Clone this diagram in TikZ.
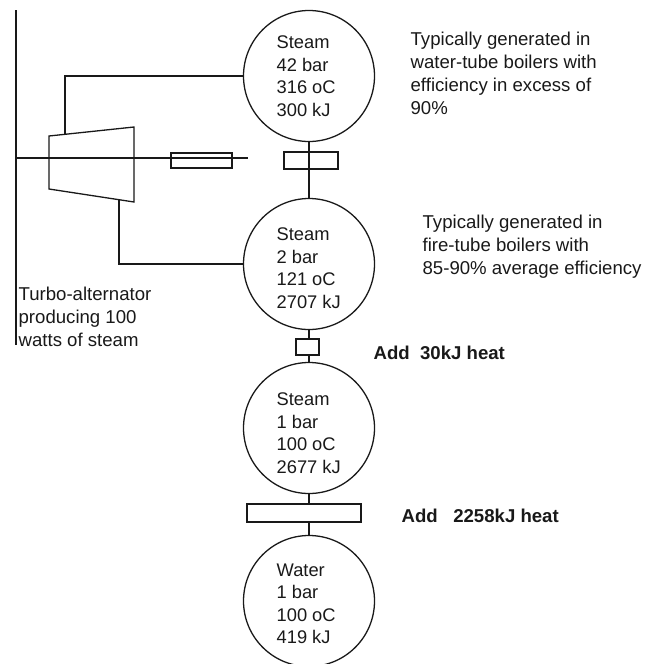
\documentclass[tikz,border=0pt]{standalone}
\usepackage{fontspec}
\setmainfont{Liberation Sans}
\tikzset{
  vessel/.style={draw,circle,minimum size=131pt,inner sep=0pt,outer sep=0pt},
  box/.style={draw,rectangle,inner sep=0pt,outer sep=0pt},
  state/.style={align=left,anchor=west,inner sep=0pt,font=\fontsize{18.3}{22.5}\selectfont},
  remark/.style={align=left,anchor=west,inner sep=0pt,font=\fontsize{18.6}{23}\selectfont},
  heat/.style={anchor=west,inner sep=0pt,font=\fontsize{18.6}{20}\selectfont\bfseries},
}
\begin{document}
\begin{tikzpicture}[x=1pt,y=-1pt,line width=1.3pt,color=black!90]
\useasboundingbox (0,0) rectangle (654,664);
% coordinates
\coordinate (xBarA)  at ( 16, 10);
\coordinate (xBarB)  at ( 16,345);
\coordinate (xShaft) at ( 16,158);
\coordinate (xEnd)   at (248,158);
\coordinate (xTA)    at ( 49,136);
\coordinate (xTB)    at (134,127);
\coordinate (xTC)    at (134,202);
\coordinate (xTD)    at ( 49,189);
\coordinate (xInlet) at ( 65,134);
\coordinate (xOutlet) at (119,200);
% vessels
\node[vessel] (steamA) at (309, 76) {};
\node[vessel] (steamB) at (309,264) {};
\node[vessel] (steamC) at (309,428) {};
\node[vessel] (water)  at (309,601) {};
% boxes
\node[box,minimum width=61pt,minimum height=15pt]  (fuse)   at (201.5,160.5) {};
\node[box,minimum width=54pt,minimum height=17pt]  (heatA)  at (311,160.5) {};
\node[box,minimum width=23pt,minimum height=16pt]  (heatB)  at (307.5,347) {};
\node[box,minimum width=114pt,minimum height=18pt] (heatC)  at (304,513) {};
% connectors
\draw (xBarA) -- (xBarB);
\draw (xShaft) -- (xEnd);
\draw (xTA) -- (xTB) -- (xTC) -- (xTD) -- cycle;
\draw (steamA.west) -- (xInlet |- steamA.west) -- (xInlet);
\draw (steamB.west) -- (xOutlet |- steamB.west) -- (xOutlet);
\draw (steamA.south) -- (steamB.north);
\draw (steamB.south) -- (heatB.north -| steamB.south);
\draw (heatB.south -| steamC.north) -- (steamC.north);
\draw (steamC.south) -- (heatC.north -| steamC.south);
\draw (heatC.south -| water.north) -- (water.north);
% state labels
\node[state] (lblA) at (276, 76) {Steam\\42 bar\\316 oC\\300 kJ};
\node[state] (lblB) at (276,268) {Steam\\2 bar\\121 oC\\2707 kJ};
\node[state] (lblC) at (276,433) {Steam\\1 bar\\100 oC\\2677 kJ};
\node[state] (lblD) at (276,604) {Water\\1 bar\\100 oC\\419 kJ};
% remarks
\node[remark] (noteA) at (410, 73) {Typically generated in\\water-tube boilers with\\efficiency in excess of\\90\%};
\node[remark] (noteB) at (422,247) {Typically generated in\\fire-tube boilers with\\85-90\% average efficiency};
\node[remark] (noteC) at ( 18,317) {Turbo-alternator\\producing 100\\watts of steam};
\node[heat] (addA) at (373,353) {Add\ \ 30kJ heat};
\node[heat] (addB) at (401,516) {Add\ \ \ 2258kJ heat};
\end{tikzpicture}
\end{document}
